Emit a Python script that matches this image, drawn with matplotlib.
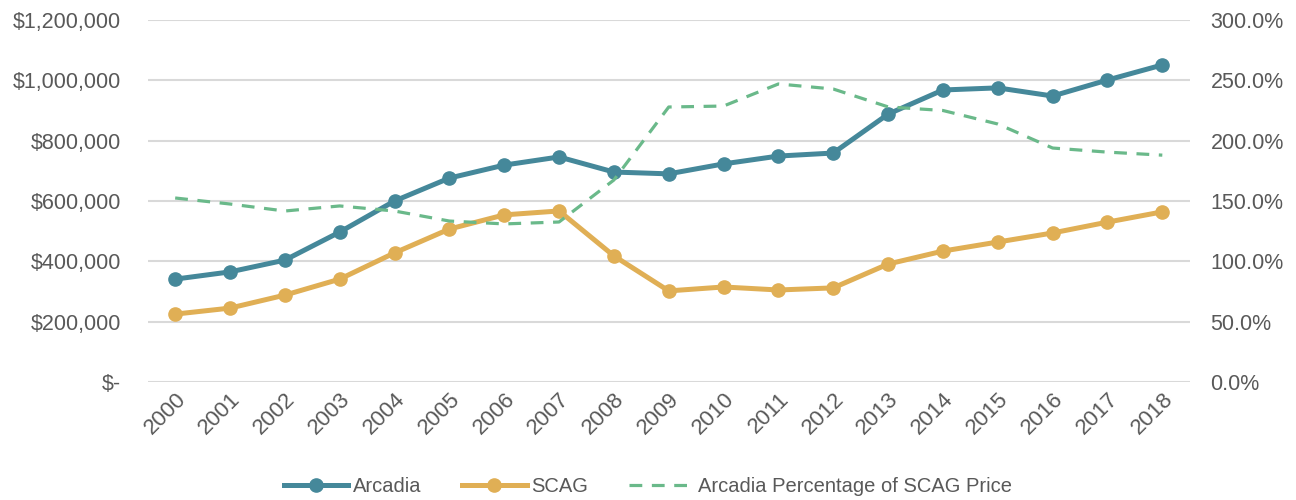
import matplotlib.pyplot as plt
from matplotlib.ticker import FuncFormatter

plt.rcParams['font.family'] = ['Liberation Sans', 'DejaVu Sans']

years = [str(y) for y in range(2000, 2019)]
arcadia = [341000, 365000, 404000, 497000, 600000, 676000, 719000, 746000, 696000, 690000,
           723000, 749000, 759000, 888000, 968000, 975000, 948000, 1001000, 1051000]
scag = [225000, 245000, 288000, 341000, 428000, 507000, 554000, 567000, 418000, 302000,
        315000, 305000, 312000, 391000, 434000, 464000, 494000, 530000, 564000]
pct = [152.5, 147.5, 141.7, 145.9, 141.7, 133.4, 131.0, 132.6, 167.4, 227.9,
       228.7, 247.0, 242.8, 228.0, 225.0, 213.8, 193.9, 190.5, 188.0]

grey = '#595959'
c_arc = '#45889A'
c_scag = '#E0AF55'
c_pct = '#6AB98A'

fig = plt.figure(figsize=(12.96, 5), dpi=100)
ax = fig.add_axes([0.114, 0.236, 0.804, 0.724])
ax2 = ax.twinx()

x = range(len(years))
l1, = ax.plot(x, arcadia, color=c_arc, lw=3.6, marker='o', ms=9.5, label='Arcadia', zorder=3)
l2, = ax.plot(x, scag, color=c_scag, lw=3.6, marker='o', ms=9.5, label='SCAG', zorder=3)
l3, = ax2.plot(x, pct, color=c_pct, lw=2.3, ls=(0, (4, 3)), label='Arcadia Percentage of SCAG Price')

ax.set_xlim(-0.5, len(years) - 0.5)
ax.set_ylim(0, 1200000)
ax2.set_ylim(0, 300)
ax.set_yticks(range(0, 1200001, 200000))
ax2.set_yticks(range(0, 301, 50))
ax.yaxis.set_major_formatter(FuncFormatter(lambda v, p: '$-' if v == 0 else f'${v:,.0f}'))
ax2.yaxis.set_major_formatter(FuncFormatter(lambda v, p: f'{v:.1f}%'))
ax.set_xticks(list(x))
ax.set_xticklabels(years, rotation=45, ha='right', rotation_mode='anchor')

ax.grid(axis='y', color='#D9D9D9', lw=1.5)
ax.set_axisbelow(True)
for a in (ax, ax2):
    for s in a.spines.values():
        s.set_visible(False)
    a.tick_params(length=0, labelsize=15.5, colors=grey)
ax.tick_params(axis='y', pad=19)
ax2.tick_params(axis='y', pad=15)
ax.tick_params(axis='x', pad=5, labelsize=16)

fig.legend(handles=[l1, l2, l3], loc='lower center', bbox_to_anchor=(0.5, -0.028), ncol=3,
           frameon=False, labelcolor=grey, handlelength=3.2, handletextpad=0.25,
           columnspacing=2.0, prop={'size': 14.5})

fig.savefig('out.png')
